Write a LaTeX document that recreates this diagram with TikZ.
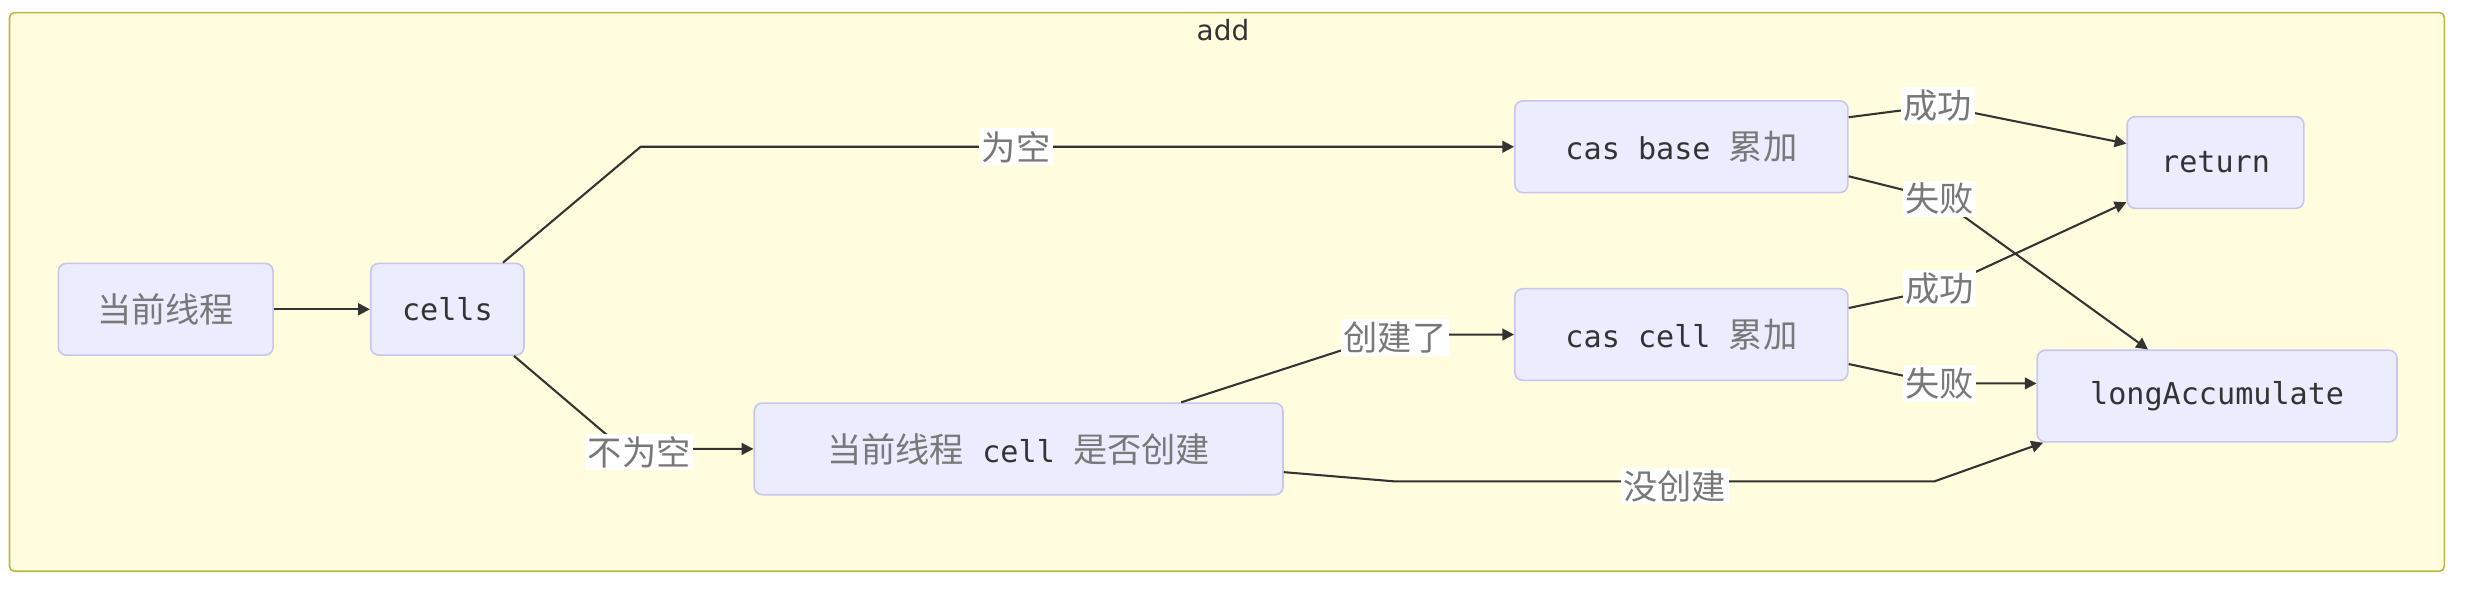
\documentclass[tikz,border=0pt]{standalone}
\usepackage{fontspec}
\setmainfont{DejaVu Sans}
\setmonofont{DejaVu Sans Mono}
\newfontfamily\cjk{Noto Sans CJK SC}
\usetikzlibrary{arrows.meta}
\definecolor{nodefill}{HTML}{ECECFF}
\definecolor{nodeborder}{HTML}{C6C6EE}
\definecolor{clusterfill}{HTML}{FFFDDE}
\definecolor{clusterborder}{HTML}{B8B845}
\definecolor{zhgray}{HTML}{787878}
\definecolor{engray}{HTML}{333333}
\definecolor{linecol}{HTML}{333333}
\newcommand\zh[1]{{\cjk\color{zhgray}\fontsize{10.8}{12}\selectfont #1}}
\newcommand\en[1]{{\ttfamily\color{engray}\fontsize{9.5}{11}\selectfont #1}}
\tikzset{
  box/.style={draw=nodeborder, fill=nodefill, rounded corners=2.5pt, line width=0.5pt,
    minimum height=28.9pt, inner sep=0pt},
  cluster/.style={draw=clusterborder, fill=clusterfill, rounded corners=1.5pt, line width=0.5pt,
    inner sep=0pt},
  edge/.style={draw=linecol, line width=0.65pt, -{Triangle[length=3.7pt,width=3.7pt]}},
  lbl/.style={fill=white, inner sep=0.8pt, font=\cjk\fontsize{10.8}{12}\selectfont, text=zhgray},
  title/.style={font=\fontsize{8.8}{10}\selectfont, text=engray}
}
\begin{document}
\begin{tikzpicture}[x=0.4975pt,y=-0.4975pt]
\useasboundingbox (0,0) rectangle (1567.8,373.3);
\node[cluster, minimum width=767.6pt, minimum height=176.1pt] (grp) at (777.5,185) {};
\node[title] (ttl) at (775,19) {add};

\node[box, minimum width=67.7pt]   (n1)    at (105,196)    {\zh{当前线程}};
\node[box, minimum width=48.3pt]   (cells) at (283.5,196)  {\en{cells}};
\node[box, minimum width=105pt]    (base)  at (1065.5,93)  {\en{cas base }\zh{累加}};
\node[box, minimum width=55.7pt]   (ret)   at (1404,103)   {\en{return}};
\node[box, minimum width=105pt]    (cell)  at (1065.5,212) {\en{cas cell }\zh{累加}};
\node[box, minimum width=113.4pt]  (acc)   at (1405,251)   {\en{longAccumulate}};
\node[box, minimum width=166.7pt]  (chk)   at (645.5,284.5) {\zh{当前线程}\en{ cell }\zh{是否创建}};

\coordinate (p1) at (406,93);
\coordinate (p2) at (395,284.5);
\coordinate (p3) at (881,212);
\coordinate (p4) at (883,305);
\coordinate (p5) at (1226,305);

\draw[edge] (n1) -- (cells);
\draw[edge] (cells.40) -- (p1) -- node[lbl, pos=0.43] {为空} (base.west);
\draw[edge] (cells.-35) -- (p2) node[lbl, xshift=5pt, yshift=-1pt] {不为空} -- (chk.west);
\draw[edge] (chk.16.6) -- (p3) node[lbl, xshift=1.5pt, yshift=-1pt] {创建了} -- (cell.west);
\draw[edge] (chk.-5) -- (p4) -- node[lbl, pos=0.52, yshift=-1.5pt] {没创建} (p5) -- (acc.195.8);
\draw[edge] (base.10.7) -- (1228,67) node[lbl] {成功} -- (ret.168.9);
\draw[edge] (base.-10.2) -- (1229,126) node[lbl] {失败} -- (acc.146);
\draw[edge] (cell.9.7) -- (1229,183) node[lbl] {成功} -- (ret.204);
\draw[edge] (cell.-10.2) -- (1229,243) node[lbl] {失败} -- (acc.176);
\end{tikzpicture}
\end{document}
